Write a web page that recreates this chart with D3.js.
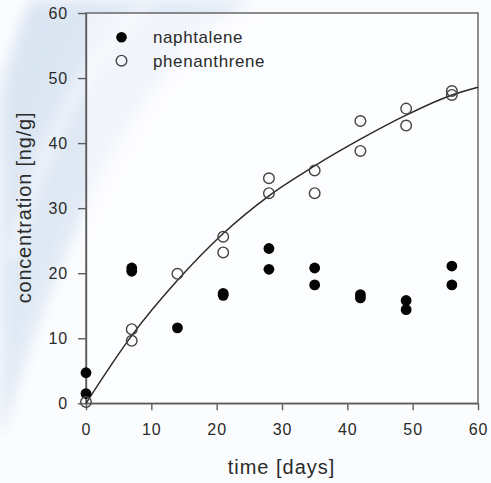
<html>
  <meta charset="utf-8" />
  <script src="https://d3js.org/d3.v7.min.js"></script>
  <style>
    body { margin: 0; background: #fbfcfe; }
    svg text { font-family: "Liberation Sans", Arial, sans-serif; fill: #2b2b2b; }
  </style>
  <body>
    <svg width="491" height="483" id="chart"></svg>
  </body>
  <script>
    // sampling days
    const naphDays = [0, 0, 7, 7, 14, 21, 21, 28, 28, 35, 35, 42, 42, 49, 49, 56, 56];
    const naphtalene = [4.7, 1.5, 20.8, 20.3, 11.6, 16.9, 16.6, 23.8, 20.6, 20.8, 18.2, 16.7, 16.2, 15.8, 14.4, 21.1, 18.2];
    const phenDays = [0, 7, 7, 14, 21, 21, 28, 28, 35, 35, 42, 42, 49, 49, 56, 56];
    const phenanthrene = [0.2, 11.4, 9.6, 19.9, 25.6, 23.2, 34.6, 32.3, 35.8, 32.3, 43.4, 38.8, 45.3, 42.7, 48.0, 47.4];
    // fitted curve
    const fitDays = [0, 7, 14, 21, 28, 35, 42, 49, 56, 60];
    const fitConc = [0, 10.4, 18.9, 26.1, 31.9, 36.5, 40.6, 44.3, 47.4, 48.6];
    const xTicks = [0, 10, 20, 30, 40, 50, 60];
    const yTicks = [0, 10, 20, 30, 40, 50, 60];
    const legendNames = ["naphtalene", "phenanthrene"];

    const svg = d3.select("#chart");

    // pale blue swoosh in the corner
    const defs = svg.append("defs");
    const grad = defs.append("linearGradient").attr("id", "swoosh")
      .attr("x1", "0").attr("y1", "0").attr("x2", "1").attr("y2", "1");
    grad.append("stop").attr("offset", "0").attr("stop-color", "#d5e1f1");
    grad.append("stop").attr("offset", "0.6").attr("stop-color", "#e3ebf6");
    grad.append("stop").attr("offset", "1").attr("stop-color", "#f6f8fc");
    defs.append("filter").attr("id", "blur")
      .append("feGaussianBlur").attr("stdDeviation", 7);
    svg.append("path")
      .attr("d", "M30,0 L255,0 C175,40 85,150 0,445 L0,95 C8,60 18,30 30,0 Z")
      .attr("fill", "url(#swoosh)")
      .attr("filter", "url(#blur)")
      .attr("opacity", 0.9);
    svg.append("path")
      .attr("d", "M150,0 C95,50 45,130 10,260")
      .attr("fill", "none")
      .attr("stroke", "#f3f6fb")
      .attr("stroke-width", 10)
      .attr("filter", "url(#blur)");

    const x = d3.scaleLinear().domain([0, 60]).range([86, 478]);
    const y = d3.scaleLinear().domain([0, 60]).range([403.3, 13]);

    // frame
    svg.append("rect")
      .attr("x", x(0)).attr("y", y(60))
      .attr("width", x(60) - x(0)).attr("height", y(0) - y(60))
      .attr("fill", "#fefeff")
      .attr("fill-opacity", 0.6)
      .attr("stroke", "#5e5e5e")
      .attr("stroke-width", 1.4);

    const yAxis = svg.append("g")
      .attr("transform", `translate(${x(0)},0)`)
      .call(d3.axisLeft(y).tickValues(yTicks).tickSize(8).tickSizeOuter(0).tickPadding(10));
    const xAxis = svg.append("g")
      .attr("transform", `translate(0,${y(0)})`)
      .call(d3.axisBottom(x).tickValues(xTicks).tickSize(7).tickSizeOuter(0).tickPadding(13));
    [yAxis, xAxis].forEach((a) => {
      a.select(".domain").attr("stroke", "#5e5e5e").attr("stroke-width", 1.4);
      a.selectAll(".tick line").attr("stroke", "#5e5e5e").attr("stroke-width", 1.4);
      a.selectAll(".tick text")
        .style("font-size", "16px")
        .attr("letter-spacing", "0.9px")
        .attr("fill", "#2b2b2b");
    });

    // fitted curve
    const line = d3.line()
      .x((d, i) => x(fitDays[i]))
      .y((d) => y(d))
      .curve(d3.curveMonotoneX);
    svg.append("path")
      .attr("d", line(fitConc))
      .attr("fill", "none")
      .attr("stroke", "#2a2a2a")
      .attr("stroke-width", 1.5);

    svg.append("g").selectAll("circle")
      .data(naphtalene)
      .join("circle")
      .attr("cx", (d, i) => x(naphDays[i]))
      .attr("cy", (d) => y(d))
      .attr("r", 5.4)
      .attr("fill", "#050505");

    svg.append("g").selectAll("circle")
      .data(phenanthrene)
      .join("circle")
      .attr("cx", (d, i) => x(phenDays[i]))
      .attr("cy", (d) => y(d))
      .attr("r", 5.3)
      .attr("fill", "none")
      .attr("stroke", "#444")
      .attr("stroke-width", 1.4);

    // legend
    const legend = svg.append("g");
    legendNames.forEach((name, i) => {
      legend.append("circle")
        .attr("cx", 121.5).attr("cy", 37.3 + i * 23.4)
        .attr("r", 5.3)
        .attr("fill", i === 0 ? "#050505" : "none")
        .attr("stroke", i === 0 ? "none" : "#444")
        .attr("stroke-width", 1.4);
      legend.append("text")
        .attr("x", 153).attr("y", 43.3 + i * 23.4)
        .style("font-size", "17px")
        .attr("letter-spacing", "0.6px")
        .text(name);
    });

    svg.append("text")
      .attr("x", 281.5).attr("y", 474)
      .attr("text-anchor", "middle")
      .style("font-size", "20px")
      .attr("letter-spacing", "1px")
      .text("time [days]");

    svg.append("text")
      .attr("transform", "translate(31,207.5) rotate(-90)")
      .attr("text-anchor", "middle")
      .style("font-size", "20px")
      .attr("letter-spacing", "0.8px")
      .text("concentration [ng/g]");
  </script>
</html>
